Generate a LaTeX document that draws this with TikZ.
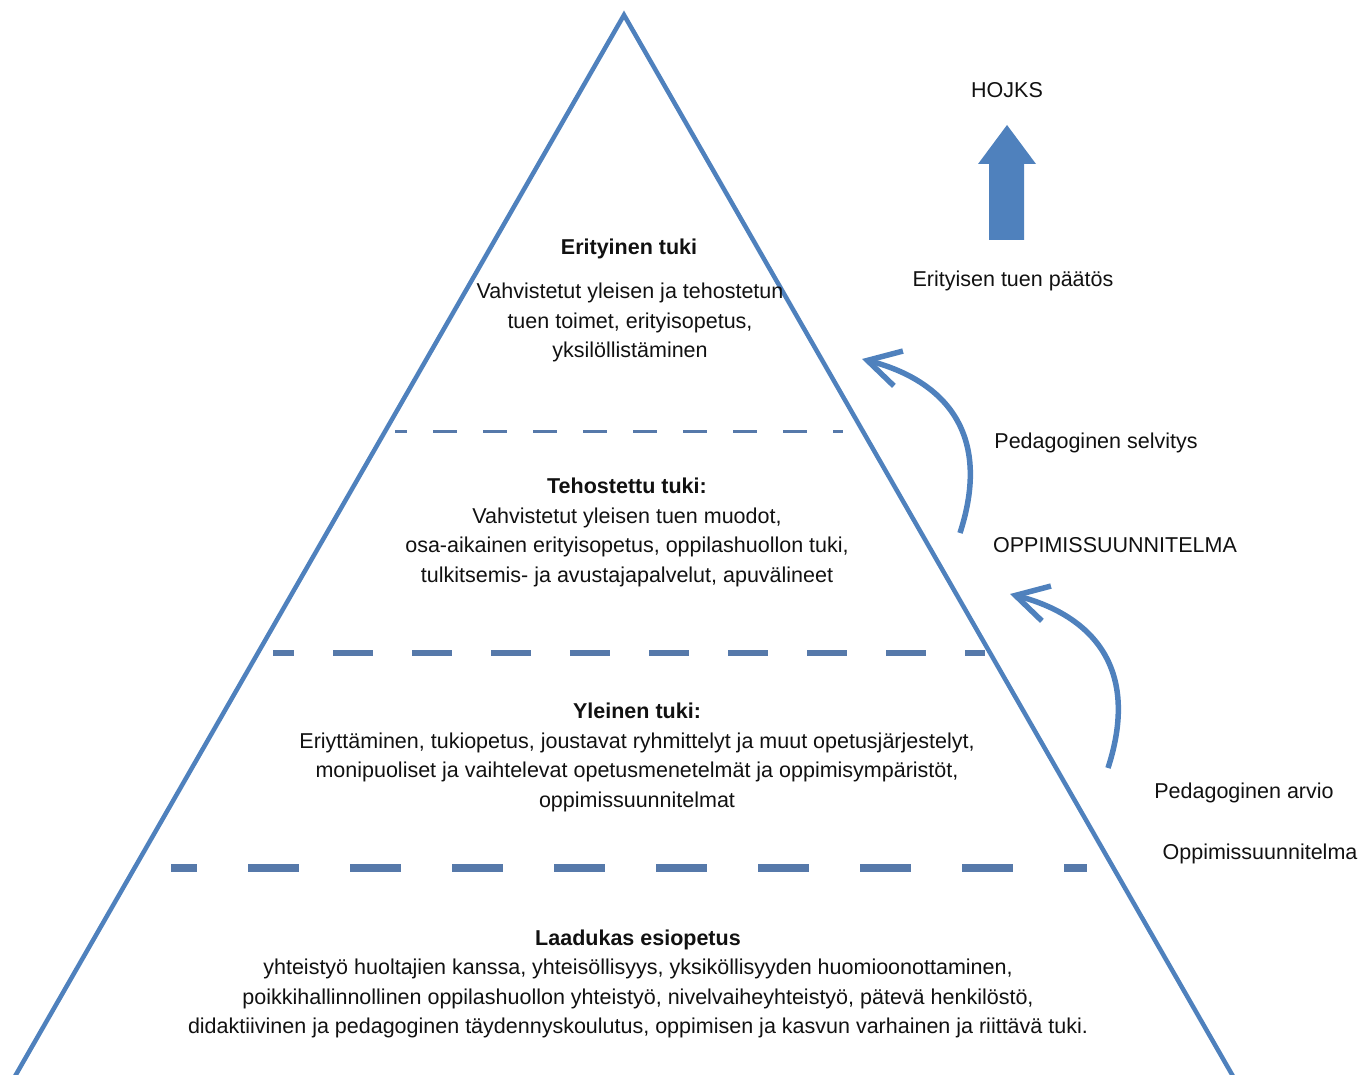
\documentclass[tikz,border=0pt]{standalone}
\usepackage{fontspec}
\setmainfont{Liberation Sans}
\usetikzlibrary{arrows.meta}
\definecolor{tri}{HTML}{4F81BD}
\definecolor{dsh}{HTML}{5679AA}
\definecolor{txt}{HTML}{111111}
\begin{document}
\begin{tikzpicture}[x=1pt,y=-1pt,
  lbl/.style={text=txt,font=\fontsize{21.5}{29.5}\selectfont,inner sep=0pt,align=center},
  ttl/.style={lbl,font=\fontsize{21.5}{29.5}\selectfont\bfseries},
  sep1/.style={dsh,line width=3pt,dash pattern=on 24pt off 26pt,dash phase=12pt},
  sep2/.style={dsh,line width=6pt,dash pattern=on 40pt off 39pt,dash phase=19pt},
  sep3/.style={dsh,line width=8pt,dash pattern=on 51pt off 51pt,dash phase=25pt},
  curvearrow/.style={tri,line width=5.5pt,-{Straight Barb[length=32pt,width=36pt,line width=5.5pt]}}]
\useasboundingbox (0,0) rectangle (1372,1075);
\begin{scope}
\clip (0,0) rectangle (1372,1075);
% triangle
\coordinate (apex) at (624,15);
\coordinate (bl) at (14,1078);
\coordinate (br) at (1234,1078);
\draw[tri,line width=4.5pt,line join=miter] (bl) -- (apex) -- (br);
\end{scope}
% separators
\coordinate (s1a) at (395,431); \coordinate (s1b) at (843,431);
\coordinate (s2a) at (273,653); \coordinate (s2b) at (985,653);
\coordinate (s3a) at (171,868); \coordinate (s3b) at (1087,868);
\draw[sep1] (s1a) -- (s1b);
\draw[sep2] (s2a) -- (s2b);
\draw[sep3] (s3a) -- (s3b);
% level texts
\node[ttl] (t1) at (629,249) {Erityinen tuki};
\node[lbl] (b1) at (630,322.5) {Vahvistetut yleisen ja tehostetun\\tuen toimet, erityisopetus,\\yksilöllistäminen};
\node[lbl] (b2) at (627,532.5) {\textbf{Tehostettu tuki:}\\Vahvistetut yleisen tuen muodot,\\osa-aikainen erityisopetus, oppilashuollon tuki,\\tulkitsemis- ja avustajapalvelut, apuvälineet};
\node[lbl] (b3) at (637,757.5) {\textbf{Yleinen tuki:}\\Eriyttäminen, tukiopetus, joustavat ryhmittelyt ja muut opetusjärjestelyt,\\monipuoliset ja vaihtelevat opetusmenetelmät ja oppimisympäristöt,\\oppimissuunnitelmat};
\node[lbl] (b4) at (638,984) {\textbf{Laadukas esiopetus}\\yhteistyö huoltajien kanssa, yhteisöllisyys, yksiköllisyyden huomioonottaminen,\\poikkihallinnollinen oppilashuollon yhteistyö, nivelvaiheyhteistyö, pätevä henkilöstö,\\didaktiivinen ja pedagoginen täydennyskoulutus, oppimisen ja kasvun varhainen ja riittävä tuki.};
% right labels
\node[lbl] (hojks) at (1007,90) {HOJKS};
\node[lbl] (paatos) at (1013,281) {Erityisen tuen päätös};
\node[lbl] (selv) at (1096,443) {Pedagoginen selvitys};
\node[lbl] (OPS) at (1115,545) {OPPIMISSUUNNITELMA};
\node[lbl] (arvio) at (1244,793) {Pedagoginen arvio};
\node[lbl] (ops) at (1260,854) {Oppimissuunnitelma};
% block arrow
\fill[tri] (989,240) -- (1024,240) -- (1024,164) -- (1036,164) -- (1007,125) -- (978,164) -- (989,164) -- cycle;
% curved arrows
\coordinate (c1s) at (960,533); \coordinate (c1e) at (862,359);
\coordinate (c2s) at (1108,768); \coordinate (c2e) at (1010,594);
\draw[curvearrow] (c1s) .. controls (995,425) and (935,378) .. (c1e);
\draw[curvearrow] (c2s) .. controls (1143,660) and (1083,613) .. (c2e);
\end{tikzpicture}
\end{document}
